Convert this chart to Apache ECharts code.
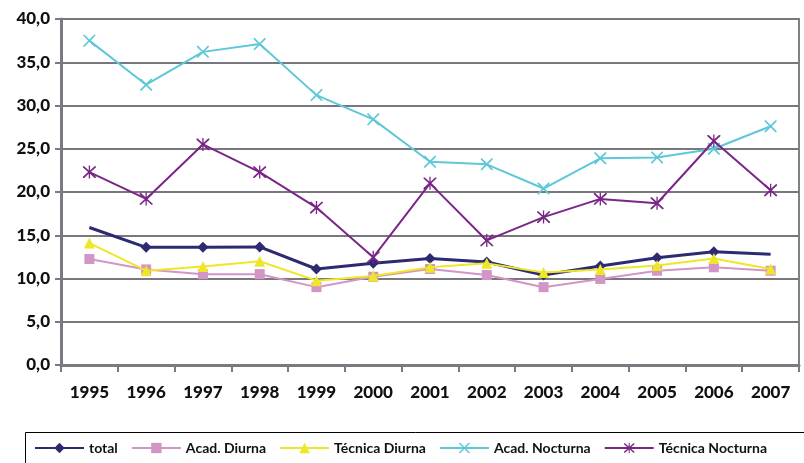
<!DOCTYPE html>
<html><head><meta charset="utf-8">
<script src="https://cdn.jsdelivr.net/npm/echarts@6/dist/echarts.min.js"></script>
<style>html,body{margin:0;padding:0;background:#fff}#c{width:804px;height:463px}</style>
</head><body><div id="c"></div>
<script>
const years = ['1995','1996','1997','1998','1999','2000','2001','2002','2003','2004','2005','2006','2007'];
const total = [15.9,13.6,13.6,13.65,11.1,11.75,12.3,11.9,10.4,11.45,12.4,13.1,12.8];
const acadDiurna = [12.25,11.05,10.5,10.5,9.0,10.2,11.1,10.4,9.0,9.95,10.9,11.3,10.9];
const tecnicaDiurna = [14.1,10.9,11.4,12.0,9.75,10.3,11.3,11.75,10.7,11.05,11.5,12.3,11.1];
const acadNocturna = [37.5,32.4,36.2,37.1,31.2,28.4,23.5,23.2,20.4,23.9,24.0,25.0,27.6];
const tecnicaNocturna = [22.3,19.2,25.5,22.3,18.2,12.45,21.0,14.4,17.1,19.2,18.7,25.9,20.2];
const seriesNames = ['total','Acad. Diurna','Técnica Diurna','Acad. Nocturna','Técnica Nocturna'];

const crossPath = 'path://M0,0 L2,0 L10,8 L18,0 L20,0 L20,2 L12,10 L20,18 L20,20 L18,20 L10,12 L2,20 L0,20 L0,18 L8,10 L0,2 Z';
const starPath = 'path://M0,0 L2,0 L10,8 L18,0 L20,0 L20,2 L12,10 L20,18 L20,20 L18,20 L10,12 L2,20 L0,20 L0,18 L8,10 L0,2 Z M9,-1 L11,-1 L11,21 L9,21 Z';

const chart = echarts.init(document.getElementById('c'));
const FONT = 'Lato, "Noto Sans", sans-serif';
function mk(name, data, color, width, symbol, size, z) {
  return {name, type:'line', data, z,
    lineStyle:{color, width}, itemStyle:{color, borderWidth:0},
    symbol, symbolSize:size, showSymbol:true, animation:false};
}
const totalData = total.map((v,i)=> (i===0||i===total.length-1) ? {value:v, symbol:'none'} : v);
chart.setOption({
  animation:false,
  grid:{left:61, right:5, top:19, bottom:98, show:true, borderColor:'#808085', borderWidth:2},
  legend:{
    left:34, top:441, padding:0, itemWidth:49, itemHeight:13, itemGap:13,
    textStyle:{fontFamily:FONT, fontWeight:'bold', fontSize:14, color:'#111'},
    data:seriesNames
  },
  graphic:[{type:'rect', left:23, top:430, shape:{width:800, height:40},
    style:{fill:'none', stroke:'#000', lineWidth:1}, z:-1}],
  xAxis:{type:'category', data:years, boundaryGap:true,
    axisLine:{lineStyle:{color:'#7a7a80', width:3}},
    axisTick:{show:true, length:7, lineStyle:{color:'#7a7a80', width:2}},
    axisLabel:{fontFamily:FONT, fontWeight:900, fontSize:17, color:'#111', margin:19},
    splitLine:{show:false}},
  yAxis:{type:'value', min:0, max:40, interval:5,
    axisLine:{show:true, lineStyle:{color:'#7a7a80', width:3}},
    axisTick:{show:true, length:6, lineStyle:{color:'#7a7a80', width:2}},
    axisLabel:{fontFamily:FONT, fontWeight:900, fontSize:17, color:'#111', margin:11,
      formatter:v=>v.toFixed(1).replace('.',',')},
    splitLine:{show:true, lineStyle:{color:'#77777d', width:2}}},
  series:[
    mk(seriesNames[0], totalData, '#2d2a72', 3, 'diamond', 11, 3),
    mk(seriesNames[1], acadDiurna, '#d394c6', 2, 'rect', 10, 2),
    mk(seriesNames[2], tecnicaDiurna, '#eee628', 2, 'triangle', 11, 4),
    mk(seriesNames[3], acadNocturna, '#5cc8d8', 2, crossPath, 12, 5),
    mk(seriesNames[4], tecnicaNocturna, '#7a2687', 2, starPath, 13, 6)
  ]
});
</script></body></html>
